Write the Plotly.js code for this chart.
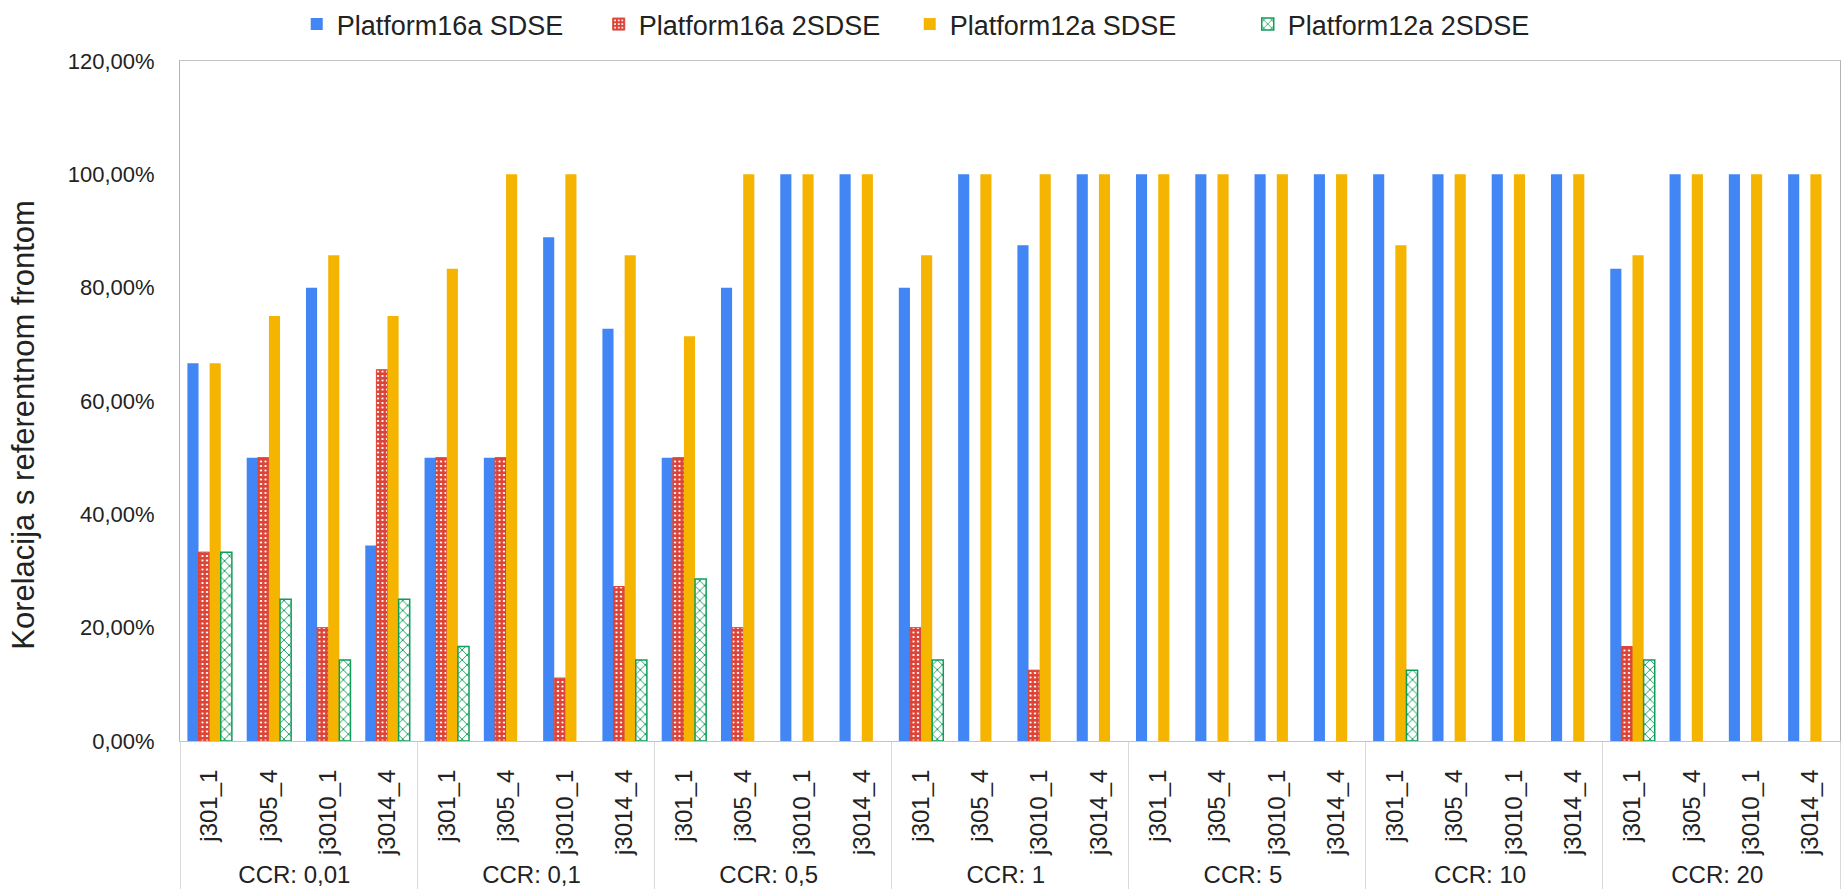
<!DOCTYPE html>
<html>
<head>
<meta charset="utf-8">
<script src="https://cdn.plot.ly/plotly-3.0.1.min.js"></script>
<style>
  html, body { margin: 0; padding: 0; background: #ffffff; }
  #chart { width: 1843px; height: 889px; }
</style>
</head>
<body>
<div id="chart"></div>
<script>
// ---- Data ----
const groups = ['CCR: 0,01', 'CCR: 0,1', 'CCR: 0,5', 'CCR: 1', 'CCR: 5', 'CCR: 10', 'CCR: 20'];
const jobs = ['j301_1', 'j305_4', 'j3010_1', 'j3014_4'];

const seriesNames = ['Platform16a SDSE', 'Platform16a 2SDSE', 'Platform12a SDSE', 'Platform12a 2SDSE'];

const platform16aSDSE = [
  0.6667, 0.50, 0.80, 0.3448,
  0.50, 0.50, 0.8889, 0.7273,
  0.50, 0.80, 1.00, 1.00,
  0.80, 1.00, 0.875, 1.00,
  1.00, 1.00, 1.00, 1.00,
  1.00, 1.00, 1.00, 1.00,
  0.8333, 1.00, 1.00, 1.00
];
const platform16a2SDSE = [
  0.3333, 0.50, 0.20, 0.6552,
  0.50, 0.50, 0.1111, 0.2727,
  0.50, 0.20, 0, 0,
  0.20, 0, 0.125, 0,
  0, 0, 0, 0,
  0, 0, 0, 0,
  0.1667, 0, 0, 0
];
const platform12aSDSE = [
  0.6667, 0.75, 0.8571, 0.75,
  0.8333, 1.00, 1.00, 0.8571,
  0.7143, 1.00, 1.00, 1.00,
  0.8571, 1.00, 1.00, 1.00,
  1.00, 1.00, 1.00, 1.00,
  0.875, 1.00, 1.00, 1.00,
  0.8571, 1.00, 1.00, 1.00
];
const platform12a2SDSE = [
  0.3333, 0.25, 0.1429, 0.25,
  0.1667, 0, 0, 0.1429,
  0.2857, 0, 0, 0,
  0.1429, 0, 0, 0,
  0, 0, 0, 0,
  0.125, 0, 0, 0,
  0.1429, 0, 0, 0
];

// ---- Build multicategory x ----
const xOuter = [];
const xInner = [];
groups.forEach(g => jobs.forEach(j => { xOuter.push(g); xInner.push(j); }));
const xCats = [xOuter, xInner];

// zero values are drawn as no bar (avoid outline strokes on empty bars)
const noZero = arr => arr.map(v => (v === 0 ? null : v));

const BLUE = '#4285F4', RED = '#DB4437', YELLOW = '#F4B400', GREEN = '#0F9D58';

const traces = [
  {
    type: 'bar', name: seriesNames[0], x: xCats, y: noZero(platform16aSDSE),
    marker: { color: BLUE, line: { width: 0 } }, legendwidth: 257
  },
  {
    type: 'bar', name: seriesNames[1], x: xCats, y: noZero(platform16a2SDSE),
    marker: {
      color: '#ffffff',
      line: { color: RED, width: 1 },
      pattern: { shape: '+', fgcolor: RED, bgcolor: '#ffffff', size: 4.5, solidity: 0.8, fillmode: 'replace' }
    }, legendwidth: 266
  },
  {
    type: 'bar', name: seriesNames[2], x: xCats, y: noZero(platform12aSDSE),
    marker: { color: YELLOW, line: { width: 0 } }, legendwidth: 293
  },
  {
    type: 'bar', name: seriesNames[3], x: xCats, y: noZero(platform12a2SDSE),
    marker: {
      color: '#ffffff',
      line: { color: GREEN, width: 1.5 },
      pattern: { shape: 'x', fgcolor: GREEN, bgcolor: '#ffffff', size: 7, solidity: 0.25, fillmode: 'replace' }
    }, legendwidth: 240
  }
];

const layout = {
  width: 1843, height: 889,
  margin: { l: 180, r: 3, t: 61, b: 148, pad: 0 },
  paper_bgcolor: '#ffffff', plot_bgcolor: '#ffffff',
  font: { family: '"Liberation Sans", Arial, Helvetica, sans-serif', color: '#222222', size: 22 },
  separators: ',.',
  barmode: 'group', bargap: 0.25, bargroupgap: 0,
  showlegend: true,
  legend: {
    orientation: 'h', xref: 'container', yref: 'container',
    x: 0.161, xanchor: 'left', y: 1, yanchor: 'top',
    font: { size: 27, color: '#222222' }, traceorder: 'normal',
    bgcolor: 'rgba(0,0,0,0)'
  },
  xaxis: {
    type: 'multicategory', tickangle: -90,
    showdividers: true, dividercolor: '#d9d9d9', dividerwidth: 1,
    showline: true, linecolor: '#c4c4c4', linewidth: 1, mirror: true,
    showgrid: false, zeroline: false, ticks: '',
    tickfont: { size: 24, color: '#222222' },
    ticklabelstandoff: 18,
    automargin: false
  },
  yaxis: {
    range: [0, 1.2], tick0: 0, dtick: 0.2, tickformat: '.2%',
    showgrid: false, zeroline: false,
    showline: true, linecolor: '#b4b4b4', linewidth: 1, mirror: true,
    ticks: '', tickfont: { size: 22, color: '#222222' },
    ticklabelstandoff: 20,
    automargin: false
  },
  annotations: [
    {
      text: 'Korelacija s referentnom frontom',
      xref: 'paper', yref: 'paper',
      x: -0.094, y: 0.465, xanchor: 'center', yanchor: 'middle',
      textangle: -90, showarrow: false,
      font: { size: 31, color: '#222222' }
    }
  ]
};

Plotly.newPlot('chart', traces, layout, { displayModeBar: false, staticPlot: true });
</script>
</body>
</html>
